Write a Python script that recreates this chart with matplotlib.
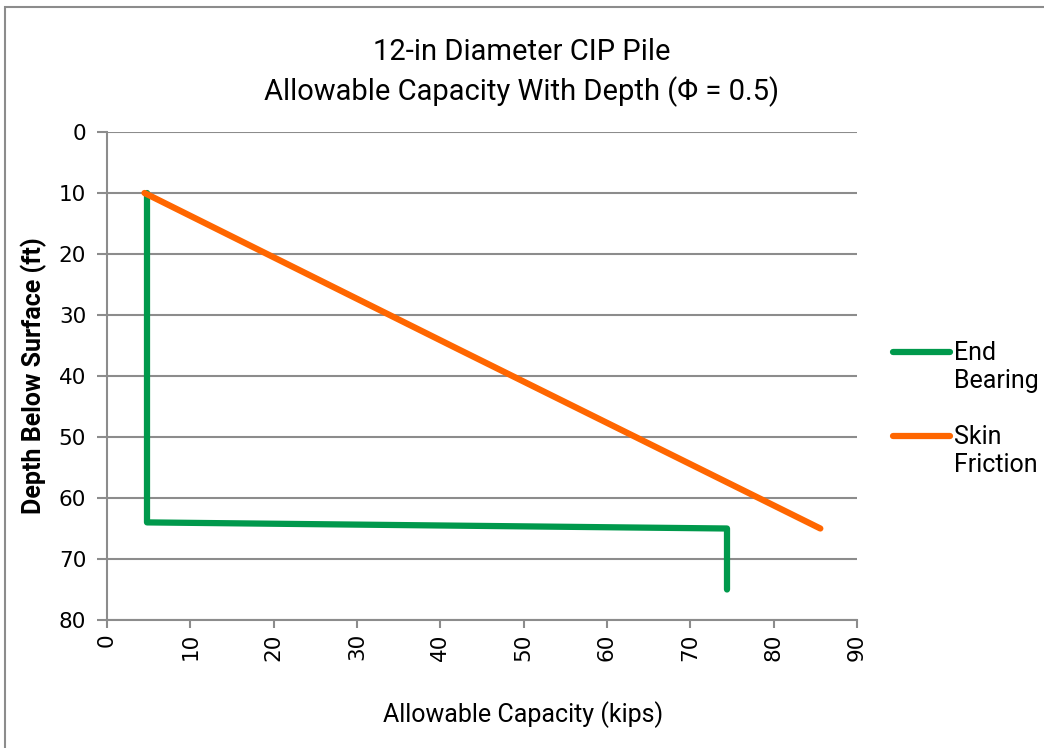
import matplotlib
matplotlib.use("Agg")
import matplotlib.pyplot as plt
from matplotlib.patches import Rectangle
from matplotlib.lines import Line2D

# Pile capacity data (kips vs depth in ft)
end_bearing_kips = [4.8, 4.8, 74.4, 74.4]
end_bearing_depth = [10, 64, 65, 75]
skin_friction_kips = [4.5, 42.0, 85.6]
skin_friction_depth = [10, 35.5, 65]
series_labels = ["End\nBearing", "Skin\nFriction"]

x_ticks = [0, 10, 20, 30, 40, 50, 60, 70, 80, 90]
y_ticks = [0, 10, 20, 30, 40, 50, 60, 70, 80]

label_font = "Roboto"
green = "#00994C"
orange = "#FF6600"
grid_gray = "#8C8C8C"
W, H = 1044, 748

fig = plt.figure(figsize=(W / 100, H / 100), dpi=100)
fig.patches.append(Rectangle((5 / W, -0.1), 1.2, 1 - 7 / H + 0.1,
                             transform=fig.transFigure, fill=False,
                             edgecolor=grid_gray, linewidth=1.5))

ax = fig.add_axes([107 / W, 1 - 620 / H, 750 / W, 488 / H])
lines = []
lines += ax.plot(end_bearing_kips, end_bearing_depth, color=green, lw=4.5,
                 solid_capstyle="round", solid_joinstyle="round")
lines += ax.plot(skin_friction_kips, skin_friction_depth, color=orange, lw=4.5,
                 solid_capstyle="round", solid_joinstyle="round")

ax.set_xlim(0, 90)
ax.set_ylim(80, 0)
ax.set_xticks(x_ticks)
ax.set_yticks(y_ticks)
ax.set_xticklabels([str(v) for v in x_ticks], rotation=90, fontsize=15.5,
                   family="DejaVu Sans")
ax.set_yticklabels([str(v) for v in y_ticks], fontsize=15.5, family="DejaVu Sans")
ax.grid(axis="y", color=grid_gray, lw=1.5)
ax.set_axisbelow(True)
for s in ["top", "right"]:
    ax.spines[s].set_visible(False)
for s in ["left", "bottom"]:
    ax.spines[s].set_color(grid_gray)
    ax.spines[s].set_linewidth(1.5)
ax.tick_params(axis="both", color=grid_gray, width=1.5, length=6)
ax.tick_params(axis="y", length=7, pad=8)

ax.set_xlabel("Allowable Capacity (kips)", family=label_font, fontsize=18)
ax.xaxis.set_label_coords(416 / 750, -81 / 488)
ax.set_ylabel("Depth Below Surface (ft)", family=label_font, fontsize=18,
              fontweight="bold")
ax.yaxis.set_label_coords(-60 / 750, 0.5)

fig.text(0.5, 1 - 52 / H, "12-in Diameter CIP Pile", ha="center", va="center",
         family=label_font, fontsize=21)
fig.text(0.5, 1 - 92 / H, "Allowable Capacity With Depth (\u03a6 = 0.5)",
         ha="center", va="center", family=label_font, fontsize=21)

# Legend: key line sits level with the first line of each two-line label
for i, (ln, lab) in enumerate(zip(lines, series_labels)):
    y = 352 + 84 * i
    fig.add_artist(Line2D([893 / W, 950 / W], [1 - y / H, 1 - y / H],
                          transform=fig.transFigure, color=ln.get_color(),
                          lw=4.5, solid_capstyle="round"))
    fig.text(954 / W, 1 - (y + 15) / H, lab, ha="left", va="center",
             family=label_font, fontsize=18, linespacing=1.2)

fig.savefig("out.png", dpi=100)
